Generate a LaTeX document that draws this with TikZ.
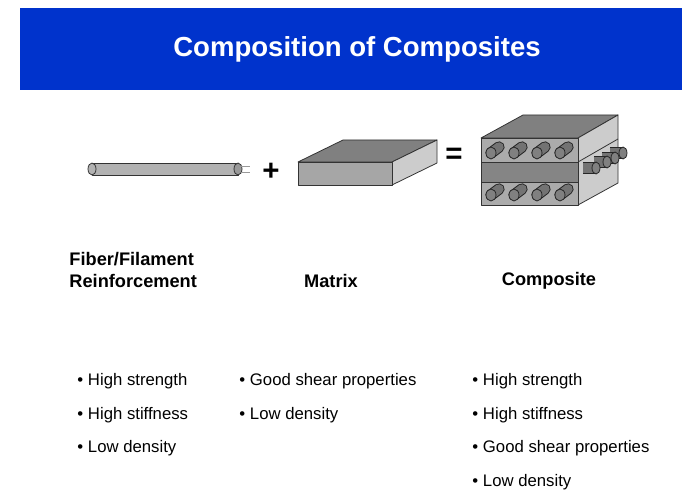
\documentclass[tikz,border=0pt]{standalone}
\usepackage{fontspec}
\setmainfont{Liberation Sans}
\begin{document}
\begin{tikzpicture}[x=0.035714cm, y=-0.035714cm, line join=round]
	\tikzset{
		face/.style    = {draw=black!80, thick},
		label/.style   = {font=\bfseries\fontsize{18.5}{21.5}\selectfont, align=left},
		bullet/.style  = {anchor=west, font=\fontsize{17}{19}\selectfont},
		rodout/.style  = {line width=11.5pt, draw=black!85},
		rodin/.style   = {line width=9.5pt, draw=black!55},
		fiberend/.style = {draw=black!85, fill=black!50, thick}
	}
	\definecolor{bannerblue}{RGB}{0,51,204}
	\useasboundingbox (0,0) rectangle (700,500);

	% banner
	\fill[bannerblue] (20,8) rectangle (682,90);
	\node[text=white, font=\bfseries\fontsize{28}{32}\selectfont] (title) at (357,49) {Composition of Composites};

	% fiber
	\draw[face, fill=black!30] (92,163) rectangle (238,175);
	\draw[face, fill=black!30] (92,169) ellipse (4 and 6);
	\draw[face, fill=black!40] (238,169) ellipse (4 and 6);
	\draw[black!40] (241,166) -- (250,166) (241,172) -- (250,172);
	\node[font=\bfseries\fontsize{30}{30}\selectfont] (plus) at (271,172) {+};

	% matrix
	\draw[face, fill=black!50] (298,162) -- (343,140) -- (437,140) -- (392,162) -- cycle;
	\draw[face, fill=black!20] (392,162) -- (437,140) -- (437,163) -- (392,185) -- cycle;
	\draw[face, fill=black!35] (298,162) rectangle (392,185);
	\node[font=\bfseries\fontsize{30}{30}\selectfont] (equals) at (454,156) {=};

	% composite
	\draw[face, fill=black!50] (481,138) -- (523,115) -- (618,115) -- (578,138) -- cycle;
	\draw[face, fill=black!20] (578,138) -- (618,115) -- (618,183) -- (578,205) -- cycle;
	\draw[face] (578,162) -- (618,139);
	\draw[face, fill=black!33] (481,138) rectangle (578,162);
	\draw[face, fill=black!48] (481,162) rectangle (578,182);
	\draw[face, fill=black!33] (481,182) rectangle (578,205);
	\foreach \y in {153,195}
		\foreach \x in {491,514,537,560}
		{
			\draw[rodout, line cap=round] (\x,\y) -- (\x+8,\y-6);
			\draw[rodin, line cap=round] (\x,\y) -- (\x+8,\y-6);
			\draw[fiberend] (\x,\y) ellipse (5 and 6);
		}
	\foreach \x/\y in {623/153, 615/158, 607/162, 596/168}
	{
		\draw[rodout] (\x-13,\y) -- (\x,\y);
		\draw[rodin] (\x-13.5,\y) -- (\x,\y);
		\draw[fiberend] (\x,\y) ellipse (4 and 6);
	}

	% labels
	\node[label, anchor=west] (fiberlbl) at (66,270) {Fiber/Filament\\Reinforcement};
	\node[label] (matrixlbl) at (331,281) {Matrix};
	\node[label] (complbl) at (549,281) {Composite};

	% properties
	\foreach \t [count=\i] in {High strength, High stiffness, Low density}
		\node[bullet] (f\i) at (74,381+33.7*\i-33.7) {\textbullet\ \t};
	\foreach \t [count=\i] in {Good shear properties, Low density}
		\node[bullet] (m\i) at (236,381+33.7*\i-33.7) {\textbullet\ \t};
	\foreach \t [count=\i] in {High strength, High stiffness, Good shear properties, Low density}
		\node[bullet] (c\i) at (469,381+33.7*\i-33.7) {\textbullet\ \t};
\end{tikzpicture}
\end{document}
